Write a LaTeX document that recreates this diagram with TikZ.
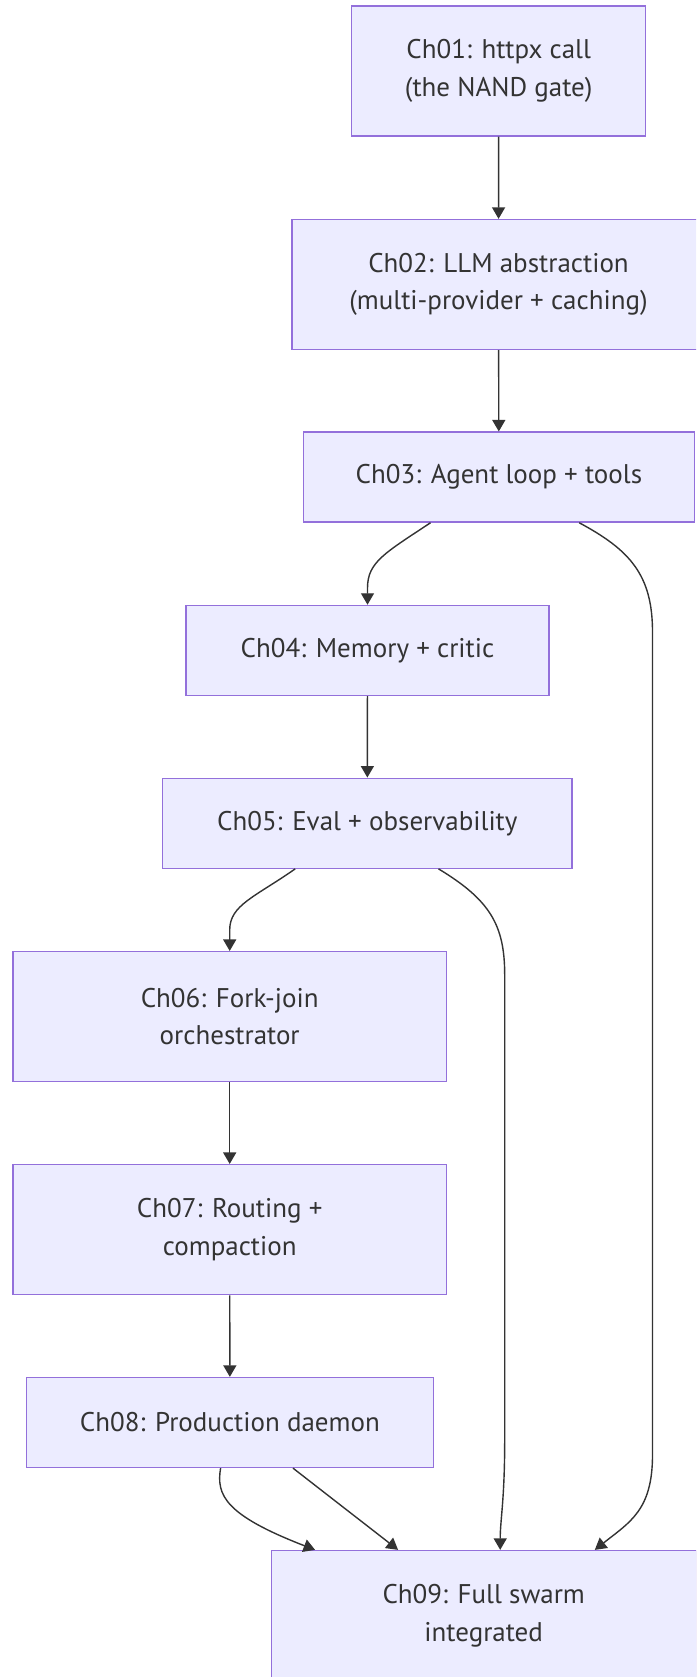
\documentclass[tikz,border=0pt]{standalone}
\usepackage{fontspec}
\setmainfont{PT Sans}
\usetikzlibrary{arrows.meta}
\definecolor{nodefill}{HTML}{ECECFF}
\definecolor{nodeedge}{HTML}{9370DB}
\definecolor{ink}{HTML}{333333}
\tikzset{
  chapter/.style={rectangle, draw=nodeedge, line width=1.3pt, fill=nodefill,
    inner sep=0pt, align=center, text=ink,
    font=\fontsize{27}{37.7}\selectfont},
  link/.style={draw=ink, line width=1.4pt,
    -{Triangle[length=11.5pt,width=13pt]}},
}
\begin{document}
\begin{tikzpicture}[x=1pt,y=-1pt]
\useasboundingbox (0,0) rectangle (696,1677);
\clip (0,0) rectangle (696,1677);

% chapter boxes
\node[chapter, minimum width=294pt, minimum height=130pt] (c1) at (498.7,71.1)
  {Ch01: httpx call\\(the NAND gate)};
\node[chapter, minimum width=413pt, minimum height=130pt] (c2) at (498.5,284.5)
  {Ch02: LLM abstraction\\(multi-provider + caching)};
\node[chapter, minimum width=391.4pt, minimum height=90pt] (c3) at (498.9,477.1)
  {Ch03: Agent loop + tools};
\node[chapter, minimum width=363pt, minimum height=90pt] (c4) at (367.5,650.4)
  {Ch04: Memory + critic};
\node[chapter, minimum width=409.5pt, minimum height=90pt] (c5) at (367.3,823.2)
  {Ch05: Eval + observability};
\node[chapter, minimum width=433.6pt, minimum height=130pt] (c6) at (229.7,1016.6)
  {Ch06: Fork-join\\orchestrator};
\node[chapter, minimum width=433.6pt, minimum height=130pt] (c7) at (229.7,1229.6)
  {Ch07: Routing +\\compaction};
\node[chapter, minimum width=406.6pt, minimum height=90pt] (c8) at (229.9,1422.5)
  {Ch08: Production daemon};
\node[chapter, minimum width=425pt, minimum height=130pt] (c9) at (483.7,1615.5)
  {Ch09: Full swarm\\integrated};

% straight links
\draw[link] (c1) -- (c2);
\draw[link] (c2) -- (c3);
\draw[link] (c4) -- (c5);
\draw[link] (c6) -- (c7);
\draw[link] (c7) -- (c8);

% curved links
\draw[link] ([xshift=-68.4pt]c3.south) .. controls (385,553) and (367.5,562) ..
  (367.5,588) -- (c4.north);
\draw[link] ([xshift=80.3pt]c3.south) .. controls (630,550) and (652.5,575) ..
  (652.5,632) -- (652.5,1455) .. controls (652.5,1510) and (630,1522) ..
  ([xshift=111.1pt]c9.north);
\draw[link] ([xshift=-72.1pt]c5.south) .. controls (255,897) and (229.7,905) ..
  (229.7,930) -- (c6.north);
\draw[link] ([xshift=71.2pt]c5.south) .. controls (490,900) and (504.7,925) ..
  (504.7,975) -- (504.7,1440) .. controls (504.7,1500) and (500.2,1520) ..
  ([xshift=16.5pt]c9.north);
\draw[link] ([xshift=-9.3pt]c8.south) .. controls (216,1495) and (225,1515) ..
  ([xshift=-168.6pt]c9.north);
\draw[link] ([xshift=63.1pt]c8.south) -- ([xshift=-85.6pt]c9.north);
\end{tikzpicture}
\end{document}
